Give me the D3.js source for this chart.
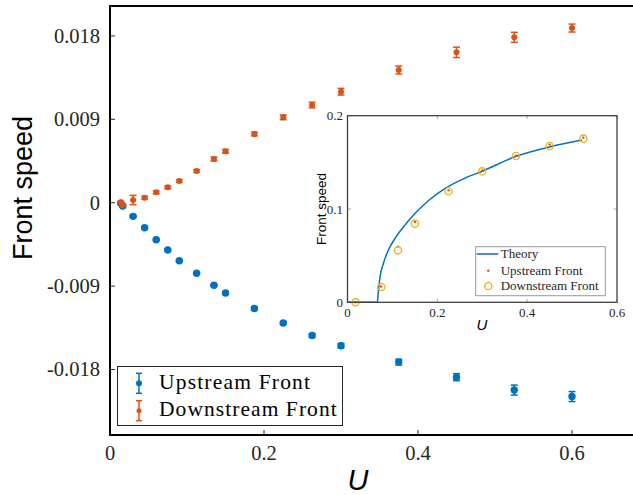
<!DOCTYPE html>
<html lang="en">
<head>
<meta charset="UTF-8">
<title>Front speed</title>
<script src="https://d3js.org/d3.v7.min.js"></script>
<style>
  body { margin: 0; background: #fff; }
  svg { display: block; }
  .tick-label { font-family: "Liberation Serif", serif; fill: #262626; }
</style>
</head>
<body>
<div id="chart"></div>
<script>
// main plot data
const uMain = [0.014, 0.0165, 0.03, 0.045, 0.06, 0.075, 0.09, 0.1125, 0.135, 0.15, 0.1875, 0.225, 0.2625, 0.3, 0.375, 0.45, 0.525, 0.6];
const upstream = [-0.00006, -0.00036, -0.00147, -0.0027, -0.00399, -0.0051, -0.00626, -0.00762, -0.00891, -0.00974, -0.01142, -0.01298, -0.01433, -0.01543, -0.0172, -0.01883, -0.02022, -0.02092];
const upstreamErr = [0.0001, 0.0001, 0.0001, 0.0001, 0.0001, 0.0001, 0.0001, 0.0001, 0.0001, 0.00012, 0.00015, 0.00015, 0.0002, 0.00025, 0.00032, 0.00038, 0.00054, 0.00054];
const downstream = [0.00004, -0.00025, 0.00029, 0.00054, 0.00112, 0.00166, 0.00234, 0.00342, 0.00472, 0.00555, 0.00741, 0.00921, 0.01054, 0.01198, 0.01432, 0.01623, 0.01785, 0.01885];
const downstreamErr = [0.0001, 0.0001, 0.0005, 0.00015, 0.00015, 0.00015, 0.00015, 0.00015, 0.0002, 0.0002, 0.0002, 0.00025, 0.0003, 0.00036, 0.00043, 0.00056, 0.00054, 0.00043];
const mainXTicks = [0, 0.2, 0.4, 0.6];
const mainYTicks = [0.018, 0.009, 0, -0.009, -0.018];
const mainYTickLabels = ["0.018", "0.009", "0", "-0.009", "-0.018"];

// inset data
const uInset = [0.018, 0.075, 0.1125, 0.15, 0.225, 0.3, 0.375, 0.45, 0.525];
const insetDown = [0, 0.0164, 0.0557, 0.0843, 0.119, 0.1404, 0.1568, 0.1675, 0.1754];
const insetUp = [0, 0.017, 0.0597, 0.086, 0.12, 0.1412, 0.157, 0.169, 0.1765];
const theoryU = [0, 0.0665, 0.0687, 0.0725, 0.08, 0.091, 0.106, 0.128, 0.1505, 0.18, 0.2174, 0.262, 0.3, 0.3773, 0.4515, 0.522];
const theoryV = [0, 0, 0.0114, 0.0274, 0.0418, 0.056, 0.0686, 0.0828, 0.0954, 0.1089, 0.1222, 0.1332, 0.1405, 0.1568, 0.1668, 0.174];
const insetXTicks = [0, 0.2, 0.4, 0.6];
const insetYTicks = [0, 0.1, 0.2];

const blue = "#0072BD", orange = "#D95319", yellow = "#EDB120";

const svg = d3.select("#chart").append("svg")
    .attr("width", 633)
    .attr("height", 495);

// main scales (right edge runs past the window)
const x = d3.scaleLinear().domain([0, 0.7]).range([110, 649]);
const y = d3.scaleLinear().domain([-0.02507, 0.02123]).range([435, 6]);

// ticks, inward
svg.append("g").selectAll("line").data(mainXTicks).join("line")
    .attr("x1", d => x(d)).attr("x2", d => x(d))
    .attr("y1", 435).attr("y2", 430)
    .attr("stroke", "#262626").attr("stroke-width", 1);
svg.append("g").selectAll("line").data(mainYTicks).join("line")
    .attr("x1", 110).attr("x2", 115)
    .attr("y1", d => y(d)).attr("y2", d => y(d))
    .attr("stroke", "#262626").attr("stroke-width", 1);

// tick labels
svg.append("g").selectAll("text").data(mainXTicks).join("text")
    .attr("class", "tick-label")
    .attr("x", d => x(d)).attr("y", 460)
    .attr("text-anchor", "middle")
    .style("font-size", "20.5px")
    .text(d => d === 0 ? "0" : d.toFixed(1));
svg.append("g").selectAll("text").data(mainYTicks).join("text")
    .attr("class", "tick-label")
    .attr("x", 100).attr("y", d => y(d) + 7)
    .attr("text-anchor", "end")
    .style("font-size", "20.5px")
    .text((d, i) => mainYTickLabels[i]);

// axis labels
svg.append("text")
    .attr("transform", "translate(32,188) rotate(-90)")
    .attr("text-anchor", "middle")
    .style("font-family", "Liberation Sans, Arial, sans-serif")
    .style("font-size", "27px")
    .attr("fill", "#000")
    .text("Front speed");
svg.append("text")
    .attr("x", 358).attr("y", 490)
    .attr("text-anchor", "middle")
    .style("font-family", "Liberation Sans, Arial, sans-serif")
    .style("font-style", "italic")
    .style("font-size", "29px")
    .text("U");

// error bar series
function errSeries(vals, errs, color, r, cap) {
  const g = svg.append("g");
  const data = uMain.map((u, i) => ({u: u, v: vals[i], e: errs[i]}));
  g.selectAll(".bar").data(data).join("line")
      .attr("x1", d => x(d.u)).attr("x2", d => x(d.u))
      .attr("y1", d => y(d.v - d.e)).attr("y2", d => y(d.v + d.e))
      .attr("stroke", color).attr("stroke-width", 1.5);
  ["lo", "hi"].forEach(k => {
    g.selectAll(".cap-" + k).data(data).join("line")
        .attr("x1", d => x(d.u) - cap).attr("x2", d => x(d.u) + cap)
        .attr("y1", d => y(k === "lo" ? d.v - d.e : d.v + d.e))
        .attr("y2", d => y(k === "lo" ? d.v - d.e : d.v + d.e))
        .attr("stroke", color).attr("stroke-width", 1.5);
  });
  g.selectAll("circle").data(data).join("circle")
      .attr("cx", d => x(d.u)).attr("cy", d => y(d.v))
      .attr("r", r).attr("fill", color);
}
errSeries(upstream, upstreamErr, blue, 3.7, 3.5);
errSeries(downstream, downstreamErr, orange, 3, 3.5);

// axes frame (left, top, bottom)
svg.append("path")
    .attr("d", "M633,6H110V435H633")
    .attr("fill", "none").attr("stroke", "#000").attr("stroke-width", 2);

// main legend
const leg = svg.append("g");
leg.append("rect")
    .attr("x", 117.5).attr("y", 366.5).attr("width", 225).attr("height", 59)
    .attr("fill", "#fff").attr("stroke", "#262626").attr("stroke-width", 1);
[{name: "Upstream Front", c: blue, cy: 383.3, len: 151, r: 3},
 {name: "Downstream Front", c: orange, cy: 410.7, len: 177.7, r: 2.5}].forEach(s => {
  leg.append("line").attr("x1", 139).attr("x2", 139)
      .attr("y1", s.cy - 10).attr("y2", s.cy + 10)
      .attr("stroke", s.c).attr("stroke-width", 1.5);
  [-10, 10].forEach(o => leg.append("line")
      .attr("x1", 136).attr("x2", 142)
      .attr("y1", s.cy + o).attr("y2", s.cy + o)
      .attr("stroke", s.c).attr("stroke-width", 1.5));
  leg.append("circle").attr("cx", 139).attr("cy", s.cy).attr("r", s.r).attr("fill", s.c);
  leg.append("text")
      .attr("x", 159).attr("y", s.cy + 5.5)
      .attr("textLength", s.len).attr("lengthAdjust", "spacing")
      .style("font-family", "Liberation Serif, serif")
      .style("font-size", "21.5px")
      .attr("fill", "#000")
      .text(s.name);
});

// ---------- inset ----------
const ix = d3.scaleLinear().domain([0, 0.6]).range([347.5, 617]);
const iy = d3.scaleLinear().domain([0, 0.2]).range([302.3, 115.7]);
const inset = svg.append("g");

inset.append("rect")
    .attr("x", 347.5).attr("y", 115.7).attr("width", 617 - 347.5).attr("height", 302.3 - 115.7)
    .attr("fill", "#fff");

// inset ticks on all four sides
inset.selectAll(".xt").data(insetXTicks).join("line")
    .attr("x1", d => ix(d)).attr("x2", d => ix(d))
    .attr("y1", 302.3).attr("y2", 299)
    .attr("stroke", "#aaa");
inset.selectAll(".xt2").data(insetXTicks).join("line")
    .attr("x1", d => ix(d)).attr("x2", d => ix(d))
    .attr("y1", 115.7).attr("y2", 119)
    .attr("stroke", "#aaa");
inset.selectAll(".yt").data(insetYTicks).join("line")
    .attr("x1", 347.5).attr("x2", 351)
    .attr("y1", d => iy(d)).attr("y2", d => iy(d))
    .attr("stroke", "#aaa");
inset.selectAll(".yt2").data(insetYTicks).join("line")
    .attr("x1", 617).attr("x2", 613.5)
    .attr("y1", d => iy(d)).attr("y2", d => iy(d))
    .attr("stroke", "#aaa");

inset.selectAll(".xl").data(insetXTicks).join("text")
    .attr("class", "tick-label")
    .attr("x", d => ix(d)).attr("y", 317)
    .attr("text-anchor", "middle")
    .style("font-size", "13px")
    .text(d => d === 0 ? "0" : d.toFixed(1));
inset.selectAll(".yl").data(insetYTicks).join("text")
    .attr("class", "tick-label")
    .attr("x", 343).attr("y", d => iy(d) + 4.5)
    .attr("text-anchor", "end")
    .style("font-size", "13px")
    .text(d => d === 0 ? "0" : d.toFixed(1));

inset.append("text")
    .attr("transform", "translate(326,209) rotate(-90)")
    .attr("text-anchor", "middle")
    .style("font-family", "Liberation Sans, Arial, sans-serif")
    .style("font-size", "13.5px")
    .text("Front speed");
inset.append("text")
    .attr("x", 482).attr("y", 330)
    .attr("text-anchor", "middle")
    .style("font-family", "Liberation Sans, Arial, sans-serif")
    .style("font-style", "italic")
    .style("font-size", "15px")
    .text("U");

// theory line
inset.append("path")
    .datum(theoryU.map((u, i) => [u, theoryV[i]]))
    .attr("fill", "none")
    .attr("stroke", blue)
    .attr("stroke-width", 1.5)
    .attr("d", d3.line().x(d => ix(d[0])).y(d => iy(d[1])).curve(d3.curveMonotoneX));

// upstream dots and downstream circles
inset.selectAll(".up").data(uInset).join("circle")
    .attr("cx", d => ix(d)).attr("cy", (d, i) => iy(insetUp[i]))
    .attr("r", 1.2).attr("fill", orange);
inset.selectAll(".down").data(uInset).join("circle")
    .attr("cx", d => ix(d)).attr("cy", (d, i) => iy(insetDown[i]))
    .attr("r", 3.6).attr("fill", "none")
    .attr("stroke", yellow).attr("stroke-width", 1.4);

// inset frame
inset.append("rect")
    .attr("x", 347.5).attr("y", 115.7).attr("width", 617 - 347.5).attr("height", 302.3 - 115.7)
    .attr("fill", "none").attr("stroke", "#404040").attr("stroke-width", 1.3);

// inset legend
const il = inset.append("g");
il.append("rect")
    .attr("x", 475.7).attr("y", 246.7).attr("width", 129.6).attr("height", 49)
    .attr("fill", "#fff").attr("stroke", "#999").attr("stroke-width", 1);
il.append("line").attr("x1", 476.7).attr("x2", 498.3).attr("y1", 254).attr("y2", 254)
    .attr("stroke", blue).attr("stroke-width", 1.5);
il.append("circle").attr("cx", 488.3).attr("cy", 270.7).attr("r", 1.2).attr("fill", orange);
il.append("circle").attr("cx", 488.3).attr("cy", 286).attr("r", 3.6)
    .attr("fill", "none").attr("stroke", yellow).attr("stroke-width", 1.4);
[["Theory", 254], ["Upstream Front", 270.7], ["Downstream Front", 286]].forEach(t => {
  il.append("text")
      .attr("x", 500.7).attr("y", t[1] + 4.2)
      .style("font-family", "Liberation Serif, serif")
      .style("font-size", "13px")
      .attr("fill", "#262626")
      .text(t[0]);
});
</script>
</body>
</html>
